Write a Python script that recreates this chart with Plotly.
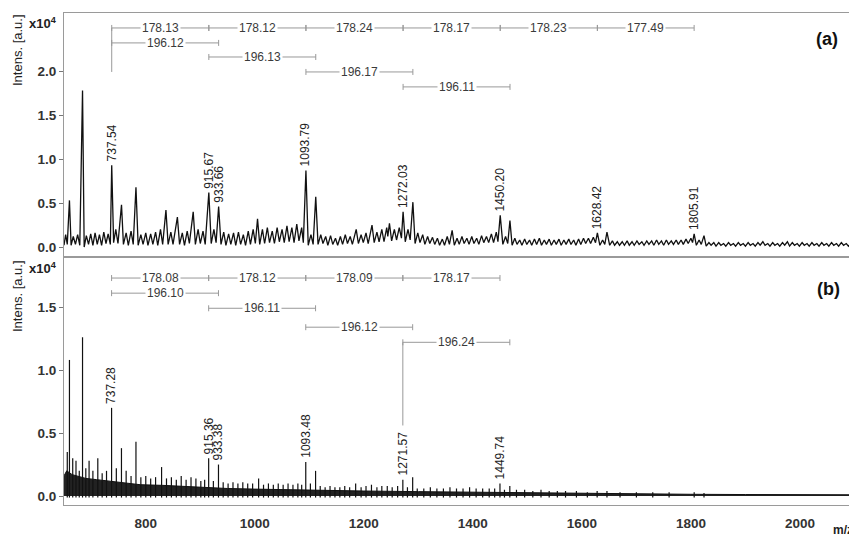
import plotly.graph_objects as go

# ---------------- data ----------------
# spectrum (a): vertices (m/z, intensity x10^4)
spec_a_points = [
    (650, 0.02), (653, 0.14), (656, 0.03), (660, 0.53), (663, 0.02), (667, 0.12), (671, 0.03), (675, 0.14), (679, 0.02),
    (684, 1.78), (687, 0.00), (691, 0.13), (695, 0.03), (699, 0.15), (703, 0.02), (707, 0.16), (711, 0.03), (715, 0.14),
    (719, 0.02), (723, 0.17), (727, 0.04), (731, 0.15), (735, 0.03), (737.54, 0.93), (741, 0.05), (745, 0.20), (749, 0.04),
    (755.5, 0.48), (759, 0.03), (764, 0.16), (768, 0.02), (773, 0.18), (777, 0.03), (782, 0.68), (786, 0.02), (791, 0.14),
    (795, 0.03), (800, 0.16), (804, 0.02), (809, 0.15), (813, 0.03), (818, 0.17), (822, 0.02), (827, 0.20), (831, 0.03),
    (837, 0.42), (841, 0.03), (846, 0.17), (850, 0.03), (858, 0.34), (862, 0.03), (867, 0.16), (871, 0.02), (876, 0.18),
    (880, 0.04), (887, 0.40), (891, 0.03), (896, 0.20), (900, 0.04), (905, 0.18), (909, 0.03), (915.67, 0.62), (920, 0.04),
    (925, 0.20), (929, 0.05), (933.66, 0.46), (938, 0.03), (943, 0.17), (947, 0.02), (952, 0.15), (956, 0.03), (961, 0.16),
    (965, 0.02), (970, 0.17), (974, 0.03), (979, 0.14), (983, 0.02), (988, 0.18), (992, 0.03), (997, 0.20), (1001, 0.04),
    (1005, 0.32), (1009, 0.03), (1014, 0.20), (1018, 0.04), (1023, 0.22), (1027, 0.05), (1032, 0.18), (1036, 0.04),
    (1041, 0.22), (1045, 0.06), (1050, 0.20), (1054, 0.05), (1059, 0.24), (1063, 0.06), (1068, 0.22), (1072, 0.05),
    (1077, 0.26), (1081, 0.07), (1086, 0.22), (1089, 0.05), (1093.79, 0.87), (1098, 0.02), (1103, 0.14), (1107, 0.03),
    (1111.8, 0.57), (1116, 0.03), (1121, 0.14), (1125, 0.04), (1130, 0.12), (1134, 0.02), (1139, 0.13), (1143, 0.03),
    (1148, 0.10), (1152, 0.02), (1157, 0.12), (1161, 0.03), (1166, 0.14), (1170, 0.04), (1175, 0.12), (1179, 0.03),
    (1186, 0.20), (1190, 0.04), (1195, 0.14), (1199, 0.05), (1204, 0.16), (1208, 0.04), (1215, 0.25), (1219, 0.05),
    (1224, 0.17), (1228, 0.06), (1233, 0.20), (1237, 0.06), (1242, 0.22), (1244, 0.12), (1247, 0.27), (1251, 0.07),
    (1256, 0.20), (1260, 0.08), (1265, 0.22), (1269, 0.10), (1272.03, 0.40), (1276, 0.06), (1281, 0.20), (1285, 0.08),
    (1290, 0.51), (1294, 0.04), (1299, 0.16), (1303, 0.05), (1308, 0.14), (1312, 0.03), (1317, 0.12), (1321, 0.04),
    (1326, 0.11), (1330, 0.03), (1335, 0.10), (1339, 0.02), (1344, 0.09), (1348, 0.02), (1353, 0.12), (1357, 0.03),
    (1362, 0.19), (1366, 0.02), (1371, 0.10), (1375, 0.03), (1380, 0.12), (1384, 0.04), (1389, 0.10), (1393, 0.03),
    (1398, 0.12), (1402, 0.04), (1407, 0.10), (1411, 0.03), (1416, 0.13), (1420, 0.05), (1425, 0.12), (1429, 0.05),
    (1434, 0.15), (1438, 0.05), (1443, 0.17), (1446, 0.06), (1450.2, 0.36), (1455, 0.03), (1460, 0.12), (1464, 0.04),
    (1468, 0.30), (1472, 0.02), (1477, 0.10), (1481, 0.03), (1486, 0.08), (1490, 0.02), (1495, 0.09), (1499, 0.03),
    (1504, 0.08), (1508, 0.02), (1513, 0.09), (1517, 0.03), (1522, 0.10), (1526, 0.02), (1531, 0.08), (1535, 0.03),
    (1540, 0.09), (1544, 0.02), (1549, 0.08), (1553, 0.03), (1558, 0.09), (1562, 0.02), (1567, 0.08), (1571, 0.03),
    (1576, 0.09), (1580, 0.03), (1585, 0.08), (1589, 0.02), (1594, 0.09), (1598, 0.03), (1603, 0.10), (1607, 0.04),
    (1612, 0.10), (1616, 0.04), (1621, 0.11), (1625, 0.05), (1628.42, 0.16), (1633, 0.02), (1638, 0.08), (1642, 0.03),
    (1646, 0.17), (1651, 0.02), (1656, 0.07), (1660, 0.02), (1665, 0.06), (1669, 0.02), (1674, 0.06), (1678, 0.02),
    (1683, 0.07), (1687, 0.02), (1692, 0.06), (1696, 0.02), (1701, 0.07), (1705, 0.03), (1710, 0.06), (1714, 0.02),
    (1719, 0.07), (1723, 0.03), (1728, 0.07), (1732, 0.02), (1737, 0.08), (1741, 0.03), (1746, 0.07), (1750, 0.02),
    (1755, 0.08), (1759, 0.03), (1764, 0.07), (1768, 0.03), (1773, 0.08), (1777, 0.03), (1782, 0.08), (1786, 0.03),
    (1791, 0.09), (1795, 0.04), (1800, 0.10), (1803, 0.05), (1805.91, 0.15), (1810, 0.02), (1815, 0.08), (1819, 0.03),
    (1824, 0.13), (1828, 0.01), (1833, 0.05), (1837, 0.02), (1842, 0.05), (1846, 0.01), (1851, 0.05), (1855, 0.02),
    (1860, 0.04), (1864, 0.01), (1869, 0.05), (1873, 0.02), (1878, 0.04), (1882, 0.01), (1887, 0.05), (1891, 0.02),
    (1896, 0.04), (1900, 0.01), (1905, 0.05), (1909, 0.02), (1914, 0.04), (1918, 0.01), (1923, 0.05), (1927, 0.02),
    (1932, 0.06), (1936, 0.02), (1941, 0.04), (1945, 0.01), (1950, 0.05), (1954, 0.02), (1959, 0.04), (1963, 0.01),
    (1968, 0.05), (1972, 0.02), (1977, 0.06), (1981, 0.01), (1986, 0.05), (1990, 0.02), (1995, 0.04), (1999, 0.01),
    (2004, 0.05), (2008, 0.02), (2013, 0.04), (2017, 0.01), (2022, 0.05), (2026, 0.02), (2031, 0.04), (2035, 0.01),
    (2040, 0.05), (2044, 0.02), (2049, 0.04), (2053, 0.01), (2058, 0.05), (2062, 0.02), (2067, 0.04), (2071, 0.01),
    (2076, 0.05), (2080, 0.02), (2085, 0.04), (2089, 0.01), (2094, 0.05), (2098, 0.02), (2102, 0.04),
]
spec_a_mz = [p[0] for p in spec_a_points]
spec_a_int = [p[1] for p in spec_a_points]

# spectrum (b): dense low-level envelope + individual peaks
spec_b_env_mz = [650, 655, 665, 675, 690, 710, 730, 760, 790, 830, 870, 910, 950, 1000, 1050, 1100,
                 1200, 1300, 1400, 1500, 1600, 1700, 1800, 1900, 2000, 2102]
spec_b_env_int = [0.16, 0.20, 0.17, 0.16, 0.14, 0.13, 0.12, 0.11, 0.09, 0.085, 0.075, 0.07, 0.06, 0.055, 0.05, 0.045,
                  0.04, 0.035, 0.03, 0.025, 0.02, 0.017, 0.014, 0.012, 0.01, 0.01]
spec_b_peaks = [
    (656, 0.35), (660, 1.08), (666, 0.30), (672, 0.28), (678, 0.20), (684, 1.26), (690, 0.22), (696, 0.28), (703, 0.20),
    (712, 0.30), (720, 0.18), (728, 0.20), (737.28, 0.70), (746, 0.22), (755.4, 0.38), (764, 0.20), (773, 0.16),
    (782, 0.43), (791, 0.15), (800, 0.16), (809, 0.14), (818, 0.15), (829, 0.23), (838, 0.14), (847, 0.15), (856, 0.13),
    (865, 0.16), (874, 0.13), (883, 0.15), (892, 0.14), (901, 0.12), (908, 0.13), (915.36, 0.30), (924, 0.12),
    (933.38, 0.25), (942, 0.11), (951, 0.10), (960, 0.11), (969, 0.10), (978, 0.11), (987, 0.10), (996, 0.10),
    (1007, 0.14), (1016, 0.09), (1025, 0.10), (1034, 0.09), (1043, 0.10), (1052, 0.09), (1061, 0.10), (1070, 0.09),
    (1079, 0.10), (1086, 0.09), (1093.48, 0.27), (1102, 0.10), (1111.47, 0.20), (1120, 0.08), (1129, 0.07),
    (1138, 0.08), (1147, 0.07), (1156, 0.07), (1165, 0.08), (1174, 0.07), (1185, 0.10), (1195, 0.07), (1204, 0.08),
    (1214, 0.09), (1224, 0.07), (1233, 0.08), (1243, 0.08), (1252, 0.07), (1262, 0.08), (1271.57, 0.13), (1280, 0.07),
    (1289.6, 0.15), (1298, 0.06), (1310, 0.06), (1322, 0.07), (1334, 0.06), (1346, 0.06), (1358, 0.07), (1370, 0.06),
    (1382, 0.06), (1394, 0.07), (1406, 0.06), (1418, 0.06), (1430, 0.06), (1440, 0.06), (1449.74, 0.10), (1458, 0.05),
    (1467.81, 0.08), (1480, 0.05), (1495, 0.05), (1510, 0.04), (1525, 0.05), (1540, 0.04), (1555, 0.04), (1570, 0.04),
    (1590, 0.04), (1610, 0.03), (1628, 0.04), (1646, 0.04), (1670, 0.03), (1700, 0.03), (1730, 0.03), (1760, 0.03),
    (1806, 0.03), (1824, 0.025),
]
spec_b_peak_mz = [p[0] for p in spec_b_peaks]
spec_b_peak_int = [p[1] for p in spec_b_peaks]

# labelled peaks
labels_a_mz = [737.54, 915.67, 933.66, 1093.79, 1272.03, 1450.2, 1628.42, 1805.91]
labels_a_txt = ["737.54", "915.67", "933.66", "1093.79", "1272.03", "1450.20", "1628.42", "1805.91"]
labels_b_mz = [737.28, 915.36, 933.38, 1093.48, 1271.57, 1449.74]
labels_b_txt = ["737.28", "915.36", "933.38", "1093.48", "1271.57", "1449.74"]

# mass-difference ladders: (start m/z, end m/z, label)
ladder_a_178 = [(737.54, 915.67, "178.13"), (915.67, 1093.79, "178.12"), (1093.79, 1272.03, "178.24"),
                (1272.03, 1450.2, "178.17"), (1450.2, 1628.42, "178.23"), (1628.42, 1805.91, "177.49")]
ladder_a_196 = [(737.54, 933.66, "196.12"), (915.67, 1111.8, "196.13"), (1093.79, 1289.96, "196.17"),
                (1272.03, 1468.14, "196.11")]
ladder_b_178 = [(737.28, 915.36, "178.08"), (915.36, 1093.48, "178.12"), (1093.48, 1271.57, "178.09"),
                (1271.57, 1449.74, "178.17")]
ladder_b_196 = [(737.28, 933.38, "196.10"), (915.36, 1111.47, "196.11"), (1093.48, 1289.6, "196.12"),
                (1271.57, 1467.81, "196.24")]

x_ticks = [800, 1000, 1200, 1400, 1600, 1800, 2000]
ya_ticks = [0.0, 0.5, 1.0, 1.5, 2.0]
yb_ticks = [0.0, 0.5, 1.0, 1.5]

# ---------------- figure ----------------
FONT = "Liberation Sans, Arial, sans-serif"
PAGE_OFF = 8                      # default body margin of the html page
W, H = 857 - PAGE_OFF, 537 - PAGE_OFF
PL, PR, PT, PB = 64, 855, 13, 505  # plot area in page pixels
ML, MT = PL - PAGE_OFF, PT - PAGE_OFF
MR = W - (PR - PAGE_OFF)
MB = H - (PB - PAGE_OFF)
PW, PH = PR - PL, PB - PT


def px_x(px):
    return (px - PL) / PW


def px_y(py):
    return (PB - py) / PH


fig = go.Figure()

fig.add_trace(go.Scatter(x=spec_a_mz, y=spec_a_int, mode="lines", xaxis="x", yaxis="y",
                         line=dict(color="#111111", width=1.3), hoverinfo="skip"))

fig.add_trace(go.Scatter(x=spec_b_env_mz, y=spec_b_env_int, mode="lines", xaxis="x2", yaxis="y2",
                         fill="tozeroy", fillcolor="rgba(10,10,10,0.9)",
                         line=dict(color="#111111", width=1), hoverinfo="skip"))
sx, sy = [], []
for m, v in zip(spec_b_peak_mz, spec_b_peak_int):
    sx += [m, m, None]
    sy += [-0.012, v, None]
fig.add_trace(go.Scatter(x=sx, y=sy, mode="lines", xaxis="x2", yaxis="y2",
                         line=dict(color="#111111", width=1.2), hoverinfo="skip"))

shapes = []
annotations = []


def peak_height(mzs, ints, m):
    best = 0
    for a, b in zip(mzs, ints):
        if abs(a - m) < 1.0:
            best = max(best, b)
    return best


LBL_FONT = dict(family=FONT, size=12, color="#222")
for m, t in zip(labels_a_mz, labels_a_txt):
    annotations.append(dict(x=m, y=peak_height(spec_a_mz, spec_a_int, m), xref="x", yref="y", text=t,
                            textangle=-90, showarrow=False, xanchor="center", yanchor="bottom", yshift=2,
                            font=LBL_FONT))
for m, t in zip(labels_b_mz, labels_b_txt):
    annotations.append(dict(x=m, y=peak_height(spec_b_peak_mz, spec_b_peak_int, m), xref="x2", yref="y2", text=t,
                            textangle=-90, showarrow=False, xanchor="center", yanchor="bottom", yshift=2,
                            font=LBL_FONT))

LADDER_COLOR = "#999999"


def add_bracket(x0, x1, yv, label, xr, yr):
    shapes.append(dict(type="line", xref=xr, yref=yr, x0=x0, x1=x1, y0=yv, y1=yv,
                       line=dict(color=LADDER_COLOR, width=1)))
    for xe in (x0, x1):
        shapes.append(dict(type="line", xref=xr, yref=yr, x0=xe, x1=xe, ysizemode="pixel", yanchor=yv,
                           y0=-3, y1=3, line=dict(color=LADDER_COLOR, width=1)))
    annotations.append(dict(x=(x0 + x1) / 2, y=yv, xref=xr, yref=yr, text=label, showarrow=False,
                            bgcolor="white", borderpad=1, xanchor="center", yanchor="middle",
                            font=dict(family=FONT, size=12, color="#3a3a3a")))


rows_a = [2.49, 2.32, 2.16, 1.99, 1.82]
rows_b = [1.73, 1.61, 1.49, 1.34, 1.22]

for x0, x1, t in ladder_a_178:
    add_bracket(x0, x1, rows_a[0], t, "x", "y")
for i, (x0, x1, t) in enumerate(ladder_a_196):
    add_bracket(x0, x1, rows_a[1 + i], t, "x", "y")
for x0, x1, t in ladder_b_178:
    add_bracket(x0, x1, rows_b[0], t, "x2", "y2")
for i, (x0, x1, t) in enumerate(ladder_b_196):
    add_bracket(x0, x1, rows_b[1 + i], t, "x2", "y2")

# vertical ladder markers
shapes.append(dict(type="line", xref="x", yref="y", x0=ladder_a_178[0][0], x1=ladder_a_178[0][0],
                   y0=rows_a[0], y1=rows_a[3], line=dict(color=LADDER_COLOR, width=1)))
shapes.append(dict(type="line", xref="x2", yref="y2", x0=ladder_b_196[3][0], x1=ladder_b_196[3][0],
                   y0=rows_b[4], y1=0.56, line=dict(color=LADDER_COLOR, width=1)))

# text decorations
for yc in (50, 296):
    annotations.append(dict(x=px_x(17), y=px_y(yc), xref="paper", yref="paper", text="Intens. [a.u.]",
                            textangle=-90, showarrow=False, xanchor="center", yanchor="middle",
                            font=dict(family=FONT, size=13, color="#222")))
for yc in (23, 268):
    annotations.append(dict(x=px_x(43), y=px_y(yc), xref="paper", yref="paper", text="x10<sup>4</sup>",
                            showarrow=False, xanchor="center", yanchor="middle",
                            font=dict(family=FONT, size=13, color="#222", weight="bold")))
annotations.append(dict(x=px_x(827), y=px_y(39), xref="paper", yref="paper", text="(a)", showarrow=False,
                        xanchor="center", yanchor="middle",
                        font=dict(family=FONT, size=18, color="#111", weight="bold")))
annotations.append(dict(x=px_x(828), y=px_y(289), xref="paper", yref="paper", text="(b)", showarrow=False,
                        xanchor="center", yanchor="middle",
                        font=dict(family=FONT, size=18, color="#111", weight="bold")))
annotations.append(dict(x=px_x(855), y=px_y(530), xref="paper", yref="paper", text="m/z", showarrow=False,
                        xanchor="right", yanchor="middle",
                        font=dict(family=FONT, size=12, color="#222", weight="bold")))

AX_LINE = "#9a9a9a"
tickfont = dict(family=FONT, size=13.5, color="#333", weight="bold")

fig.update_layout(
    width=W, height=H,
    margin=dict(l=ML, r=MR, t=MT, b=MB),
    paper_bgcolor="white", plot_bgcolor="white",
    showlegend=False,
    shapes=shapes, annotations=annotations,
    xaxis=dict(domain=[0, 1], anchor="y", range=[650, 2101], showticklabels=False, ticks="",
               showgrid=False, zeroline=False, showline=True, linecolor=AX_LINE, mirror=True),
    yaxis=dict(domain=[px_y(256), 1], anchor="x", range=[-0.102, 2.66], tickvals=ya_ticks,
               ticktext=[f"{v:.1f}" for v in ya_ticks], ticks="outside", ticklen=4, tickcolor="#777",
               tickfont=tickfont, showgrid=False, zeroline=False, showline=True, linecolor=AX_LINE, mirror=True),
    xaxis2=dict(domain=[0, 1], anchor="y2", range=[650, 2101], tickvals=x_ticks,
                ticktext=[str(v) for v in x_ticks], ticks="", tickfont=tickfont, ticklabelstandoff=6,
                showgrid=False, zeroline=False, showline=True, linecolor=AX_LINE, mirror=True),
    yaxis2=dict(domain=[0, px_y(258)], anchor="x2", range=[-0.071, 1.889], tickvals=yb_ticks,
                ticktext=[f"{v:.1f}" for v in yb_ticks], ticks="outside", ticklen=4, tickcolor="#777",
                tickfont=tickfont, showgrid=False, zeroline=False, showline=True, linecolor=AX_LINE, mirror=True),
)

fig.write_html("out.html")
